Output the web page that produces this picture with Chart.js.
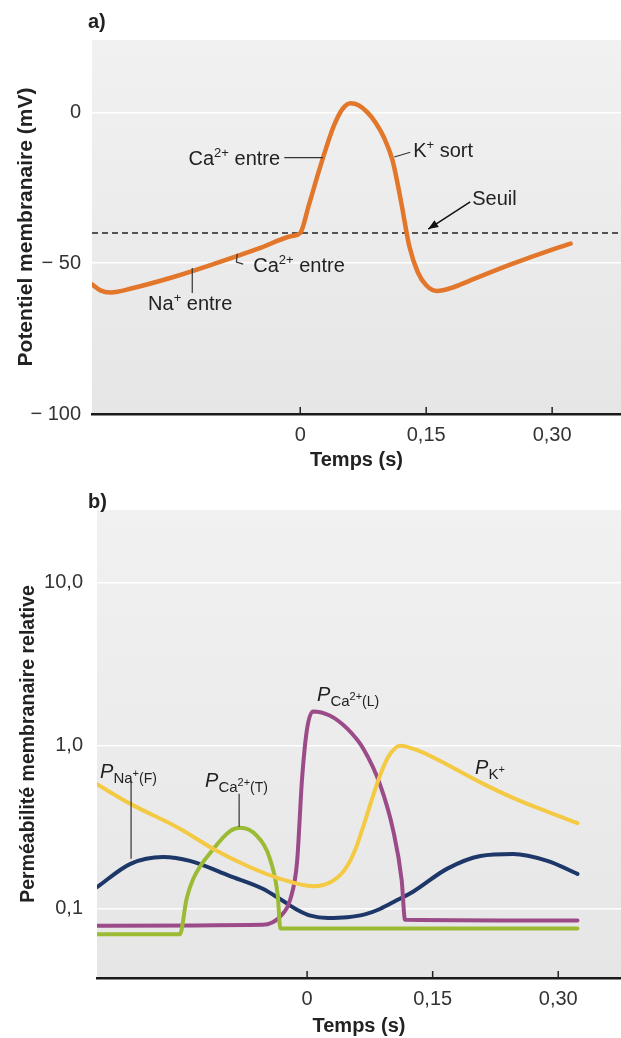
<!DOCTYPE html>
<html lang="fr">
<head>
<meta charset="utf-8">
<title>Potentiel d'action et perméabilités membranaires</title>
<script src="https://cdn.jsdelivr.net/npm/chart.js@4.4.1/dist/chart.umd.min.js"></script>
<style>
  html, body { margin: 0; padding: 0; background: #fff; }
  canvas { display: block; }
</style>
</head>
<body>
<canvas id="chartA" width="621" height="480"></canvas>
<canvas id="chartB" width="621" height="558"></canvas>
<script>
// --- a) potentiel membranaire ---
const tempsA = [-0.248, -0.238, -0.226, -0.2, -0.15, -0.1, -0.05, -0.01, 0, 0.01, 0.02, 0.03, 0.04, 0.05, 0.06, 0.07, 0.08, 0.09, 0.1, 0.11, 0.12, 0.13, 0.14, 0.15, 0.163, 0.18, 0.2, 0.25, 0.3, 0.322];
const potentiel = [-57, -59, -59.7, -58.3, -54.5, -50, -45.2, -41, -40, -31, -21.5, -12.5, -4.5, 1, 3, 2.3, 0, -3.5, -8.5, -16, -29.5, -44.5, -53, -57.3, -59.2, -58.2, -56, -50.5, -45.5, -43.5];
const seuil = -40;
const yTicksA = [-100, -50, 0];
const yLabelsA = ['\u2212 100', '\u2212 50', '0'];

// --- b) permeabilites relatives ---
const tempsK = [-0.251, -0.211, -0.152, -0.112, -0.072, -0.032, 0.007, 0.03, 0.045, 0.058, 0.068, 0.078, 0.088, 0.098, 0.111, 0.135, 0.167, 0.207, 0.246, 0.287, 0.323];
const permK = [0.58, 0.44, 0.31, 0.233, 0.184, 0.153, 0.138, 0.148, 0.174, 0.234, 0.331, 0.479, 0.676, 0.871, 1.0, 0.923, 0.767, 0.596, 0.479, 0.394, 0.335];
const tempsNa = [-0.251, -0.211, -0.172, -0.14, -0.092, -0.053, -0.03, -0.012, 0.004, 0.025, 0.048, 0.07, 0.087, 0.107, 0.127, 0.167, 0.207, 0.246, 0.287, 0.323];
const permNa = [0.136, 0.189, 0.208, 0.197, 0.159, 0.133, 0.113, 0.099, 0.091, 0.088, 0.089, 0.093, 0.1, 0.113, 0.128, 0.176, 0.211, 0.217, 0.197, 0.164];
const tempsCaT = [-0.251, -0.152, -0.144, -0.136, -0.112, -0.092, -0.08, -0.06, -0.044, -0.035, -0.032, 0.323];
const permCaT = [0.07, 0.07, 0.115, 0.153, 0.233, 0.30, 0.314, 0.28, 0.20, 0.12, 0.076, 0.076];
const tempsCaL = [-0.251, -0.053, -0.032, -0.02, -0.012, -0.006, 0.0, 0.007, 0.027, 0.048, 0.067, 0.087, 0.103, 0.113, 0.117, 0.323];
const permCaL = [0.079, 0.08, 0.09, 0.115, 0.194, 0.63, 1.27, 1.62, 1.53, 1.27, 0.96, 0.58, 0.30, 0.15, 0.086, 0.085];
const yTicksB = [0.1, 1, 10];
const yLabelsB = ['0,1', '1,0', '10,0'];

const xTicks = [0, 0.15, 0.30];
const xLabels = ['0', '0,15', '0,30'];

const FONT = '"Liberation Sans", Arial, sans-serif';
Chart.defaults.font.family = FONT;
Chart.defaults.color = '#333';

function pts(xs, ys) {
  return xs.map((x, i) => ({ x: x, y: ys[i] }));
}

function drawParts(ctx, x, y, parts, align) {
  // parts : [texte, taille, decalage, italique]
  const f = p => (p[3] ? 'italic ' : '') + p[1] + 'px ' + FONT;
  let w = 0;
  parts.forEach(p => { ctx.font = f(p); w += ctx.measureText(p[0]).width; });
  let cx = align === 'right' ? x - w : align === 'center' ? x - w / 2 : x;
  parts.forEach(p => {
    ctx.font = f(p);
    ctx.fillText(p[0], cx, y + p[2]);
    cx += ctx.measureText(p[0]).width;
  });
}

// annotations, en unites des donnees
const notesA = [
  { t: -0.024, v: -15, align: 'right', parts: [['Ca', 20, 0], ['2+', 13, -8], [' entre', 20, 0]] },
  { t: -0.056, v: -50.6, align: 'left', parts: [['Ca', 20, 0], ['2+', 13, -8], [' entre', 20, 0]] },
  { t: -0.131, v: -63.2, align: 'center', parts: [['Na', 20, 0], ['+', 13, -8], [' entre', 20, 0]] },
  { t: 0.1345, v: -12.5, align: 'left', parts: [['K', 20, 0], ['+', 13, -8], [' sort', 20, 0]] },
  { t: 0.2048, v: -28.4, align: 'left', parts: [['Seuil', 20, 0]] }
];
const leadersA = [
  [[-0.019, -15], [0.027, -15]],
  [[-0.075, -46.9], [-0.076, -49.6], [-0.068, -50.3]],
  [[-0.1286, -51.6], [-0.1286, -59.9]],
  [[0.112, -14.8], [0.131, -13.2]]
];
const arrowA = [[0.2024, -29.7], [0.1524, -38.7]];

const notesB = [
  { t: -0.2473, p: 0.702, align: 'left', parts: [['P', 20, 0, true], ['Na', 15, 5], ['+', 11, -1], ['(F)', 14, 5]] },
  { t: -0.1219, p: 0.619, align: 'left', parts: [['P', 20, 0, true], ['Ca', 15, 5], ['2+', 11, -1], ['(T)', 14, 5]] },
  { t: 0.0119, p: 2.08, align: 'left', parts: [['P', 20, 0, true], ['Ca', 15, 5], ['2+', 11, -1], ['(L)', 14, 5]] },
  { t: 0.2007, p: 0.743, align: 'left', parts: [['P', 20, 0, true], ['K', 15, 5], ['+', 11, -1]] }
];
const leadersB = [
  [[-0.2103, 0.61], [-0.2103, 0.203]],
  [[-0.0812, 0.508], [-0.0812, 0.319]]
];

const fondPlugin = {
  id: 'fond',
  beforeDraw(chart) {
    const a = chart.chartArea, ctx = chart.ctx;
    const g = ctx.createLinearGradient(0, a.top, 0, a.bottom);
    g.addColorStop(0, '#f1f1f1');
    g.addColorStop(1, '#e6e6e6');
    ctx.save();
    ctx.fillStyle = g;
    ctx.fillRect(a.left, a.top, a.right - a.left, a.bottom - a.top);
    ctx.restore();
  }
};

const tiretsPlugin = {
  id: 'tirets',
  afterDraw(chart) {
    const ctx = chart.ctx, x = chart.scales.x, b = chart.chartArea.bottom;
    ctx.save();
    ctx.strokeStyle = '#222';
    ctx.lineWidth = 1.5;
    xTicks.forEach(v => {
      const px = x.getPixelForValue(v);
      ctx.beginPath();
      ctx.moveTo(px, b);
      ctx.lineTo(px, b - 7);
      ctx.stroke();
    });
    ctx.restore();
  }
};

function notesPlugin(label, notes, leaders, arrow, yKey) {
  return {
    id: 'notes' + label,
    afterDraw(chart) {
      const ctx = chart.ctx, sx = chart.scales.x, sy = chart.scales.y;
      const P = q => [sx.getPixelForValue(q[0]), sy.getPixelForValue(q[1])];
      ctx.save();
      ctx.fillStyle = '#222';
      ctx.textBaseline = 'alphabetic';
      ctx.font = 'bold 20px ' + FONT;
      ctx.fillText(label, 88, 28);
      notes.forEach(n => {
        drawParts(ctx, sx.getPixelForValue(n.t), sy.getPixelForValue(n[yKey]) + 7, n.parts, n.align);
      });
      ctx.strokeStyle = '#333';
      ctx.lineWidth = 1.2;
      leaders.forEach(l => {
        ctx.beginPath();
        l.forEach((q, i) => { const p = P(q); i ? ctx.lineTo(p[0], p[1]) : ctx.moveTo(p[0], p[1]); });
        ctx.stroke();
      });
      if (arrow) {
        const a = P(arrow[0]), b = P(arrow[1]);
        ctx.lineWidth = 1.5;
        ctx.strokeStyle = '#111';
        ctx.beginPath(); ctx.moveTo(a[0], a[1]); ctx.lineTo(b[0], b[1]); ctx.stroke();
        const ang = Math.atan2(b[1] - a[1], b[0] - a[0]);
        ctx.fillStyle = '#111';
        ctx.beginPath();
        ctx.moveTo(b[0], b[1]);
        ctx.lineTo(b[0] - 10 * Math.cos(ang) + 4 * Math.sin(ang), b[1] - 10 * Math.sin(ang) - 4 * Math.cos(ang));
        ctx.lineTo(b[0] - 10 * Math.cos(ang) - 4 * Math.sin(ang), b[1] - 10 * Math.sin(ang) + 4 * Math.cos(ang));
        ctx.closePath();
        ctx.fill();
      }
      ctx.restore();
    }
  };
}

function xScale(min, max, h, titlePad) {
  return {
    type: 'linear', min: min, max: max,
    afterBuildTicks: s => { s.ticks = xTicks.map(v => ({ value: v })); },
    ticks: { callback: v => xLabels[xTicks.indexOf(v)], font: { size: 20 }, color: '#333', padding: 1, maxRotation: 0, autoSkip: false },
    grid: { display: false },
    border: { display: true, color: '#1a1a1a', width: 2.5 },
    title: { display: true, text: 'Temps (s)', color: '#222', font: { size: 20, weight: 'bold' }, padding: { top: 0, bottom: titlePad } },
    afterFit: s => { s.height = h; }
  };
}

const xMinA = -0.248, xMaxA = 0.382;
new Chart(document.getElementById('chartA'), {
  type: 'line',
  data: {
    datasets: [
      { data: pts(tempsA, potentiel), borderColor: '#e2762a', borderWidth: 4.5, borderCapStyle: 'round', pointRadius: 0, cubicInterpolationMode: 'monotone', order: 0 },
      { data: pts([xMinA, xMaxA], [seuil, seuil]), borderColor: '#222', borderWidth: 1.6, borderDash: [6, 4], pointRadius: 0, order: 1 }
    ]
  },
  options: {
    responsive: false, animation: false, devicePixelRatio: 1,
    layout: { padding: { top: 40, left: 0, right: 0, bottom: 0 } },
    plugins: { legend: { display: false }, tooltip: { enabled: false } },
    scales: {
      x: xScale(xMinA, xMaxA, 66, 8),
      y: {
        min: -100, max: 24,
        afterBuildTicks: s => { s.ticks = yTicksA.map(v => ({ value: v })); },
        ticks: { callback: v => yLabelsA[yTicksA.indexOf(v)], font: { size: 20 }, color: '#333', padding: 11 },
        grid: { color: 'rgba(255,255,255,0.95)', lineWidth: 1.5, drawTicks: false },
        border: { display: false },
        title: { display: true, text: 'Potentiel membranaire (mV)', color: '#222', font: { size: 21, weight: 'bold' }, padding: { top: 14, bottom: 0 } },
        afterFit: s => { s.width = 92; }
      }
    }
  },
  plugins: [fondPlugin, tiretsPlugin, notesPlugin('a)', notesA, leadersA, arrowA, 'v')]
});

const xMinB = -0.251, xMaxB = 0.375;
const ligne = { pointRadius: 0, borderWidth: 4, borderCapStyle: 'round', cubicInterpolationMode: 'monotone' };
new Chart(document.getElementById('chartB'), {
  type: 'line',
  data: {
    datasets: [
      Object.assign({ data: pts(tempsK, permK), borderColor: '#f4c944' }, ligne),
      Object.assign({ data: pts(tempsCaT, permCaT), borderColor: '#9cbb34' }, ligne),
      Object.assign({ data: pts(tempsCaL, permCaL), borderColor: '#9b4c88' }, ligne),
      Object.assign({ data: pts(tempsNa, permNa), borderColor: '#1d3768' }, ligne)
    ]
  },
  options: {
    responsive: false, animation: false, devicePixelRatio: 1,
    layout: { padding: { top: 30, left: 0, right: 0, bottom: 0 } },
    plugins: { legend: { display: false }, tooltip: { enabled: false } },
    scales: {
      x: xScale(xMinB, xMaxB, 60, 0),
      y: {
        type: 'logarithmic', min: 0.0378, max: 27.7,
        afterBuildTicks: s => { s.ticks = yTicksB.map(v => ({ value: v })); },
        ticks: { callback: v => yLabelsB[yTicksB.indexOf(v)], font: { size: 20 }, color: '#333', padding: 14 },
        grid: { color: 'rgba(255,255,255,0.95)', lineWidth: 1.5, drawTicks: false },
        border: { display: false },
        title: { display: true, text: 'Perméabilité membranaire relative', color: '#222', font: { size: 19.5, weight: 'bold' }, padding: { top: 17, bottom: 0 } },
        afterFit: s => { s.width = 97; }
      }
    }
  },
  plugins: [fondPlugin, tiretsPlugin, notesPlugin('b)', notesB, leadersB, null, 'p')]
});
</script>
</body>
</html>
